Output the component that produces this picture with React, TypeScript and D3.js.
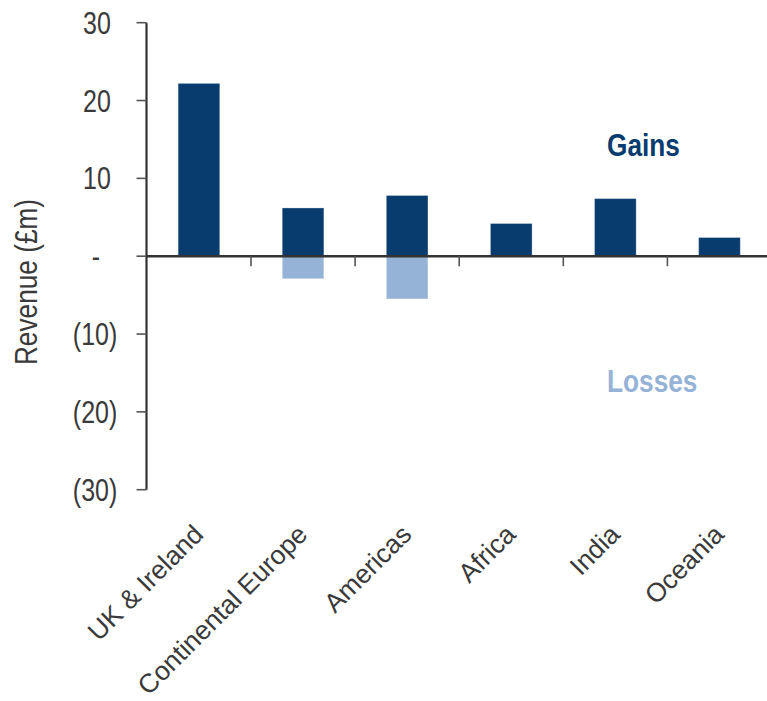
import React from "react";
import * as d3 from "d3";

// Revenue movement by region (£m)
const categories = ["UK & Ireland", "Continental Europe", "Americas", "Africa", "India", "Oceania"];
const gains = [22.2, 6.2, 7.8, 4.2, 7.4, 2.4];
const losses = [0, -2.9, -5.5, 0, 0, 0];
const yTicks = [30, 20, 10, 0, -10, -20, -30];

const W = 767;
const H = 701;
const DARK = "#083b6e";
const LIGHT = "#95b3d7";
const AXIS = "#333333";
const TEXT = "#3a3a3a";
const SANS = "'Liberation Sans', Arimo, Arial, sans-serif";
const SQUEEZE = 0.82; // horizontal squeeze for the condensed face

function fmtTick(v: number): string {
  if (v === 0) return "-";
  return v < 0 ? `(${Math.abs(v)})` : `${v}`;
}

// Condensed-looking text: regular sans squeezed horizontally
function CondText(props: {
  x: number;
  y: number;
  rotate?: number;
  anchor?: "start" | "middle" | "end";
  size: number;
  weight?: string;
  fill: string;
  dy?: string;
  children: React.ReactNode;
}) {
  const { x, y, rotate = 0, anchor = "start", size, weight = "normal", fill, dy, children } = props;
  return (
    <g transform={`translate(${x},${y}) rotate(${rotate}) scale(${SQUEEZE},1)`}>
      <text textAnchor={anchor} fontFamily={SANS} fontSize={size} fontWeight={weight} fill={fill} dy={dy}>
        {children}
      </text>
    </g>
  );
}

export default function App() {
  const axisX = 146.5;
  const y = d3.scaleLinear().domain([-30, 30]).range([489.7, 22.7]);
  const x = d3
    .scaleBand<string>()
    .domain(categories)
    .range([146.9, 146.9 + 104.1 * categories.length])
    .padding(0);
  const barW = x.bandwidth() * 0.4;
  const y0 = y(0);

  const boundaries = categories.slice(1).map((c) => x(c) as number);

  return (
    <svg width={W} height={H} style={{ position: "absolute", left: 0, top: 0, background: "#fff" }}>
      {/* bars: gains above zero, losses below */}
      {categories.map((c, i) => {
        const cx = (x(c) as number) + x.bandwidth() / 2;
        return (
          <g key={c}>
            <rect
              x={cx - barW / 2}
              y={y(gains[i])}
              width={barW}
              height={y0 - y(gains[i])}
              fill={DARK}
              stroke="#ffffff"
              strokeOpacity={0.3}
              strokeWidth={1}
            />
            {losses[i] < 0 && (
              <rect
                x={cx - barW / 2}
                y={y0}
                width={barW}
                height={y(losses[i]) - y0}
                fill={LIGHT}
                stroke="#ffffff"
                strokeOpacity={0.4}
                strokeWidth={1}
              />
            )}
          </g>
        );
      })}

      {/* y axis */}
      <line x1={axisX} x2={axisX} y1={y(30)} y2={y(-30)} stroke={AXIS} strokeWidth={2.2} />
      {yTicks.map((t) => (
        <g key={t}>
          <line x1={axisX - 10} x2={axisX} y1={y(t)} y2={y(t)} stroke="#555" strokeWidth={1.6} />
          <CondText
            x={t === 0 ? 100 : t > 0 ? 110.8 : 117.3}
            y={y(t)}
            dy="0.36em"
            anchor="end"
            size={30.5}
            fill={TEXT}
          >
            {fmtTick(t)}
          </CondText>
        </g>
      ))}

      {/* zero line with category ticks */}
      <line x1={axisX} x2={W} y1={y0} y2={y0} stroke={AXIS} strokeWidth={2.4} />
      {boundaries.map((bx, i) => (
        <line key={i} x1={bx} x2={bx} y1={y0} y2={y0 + 10} stroke="#555" strokeWidth={1.6} />
      ))}

      {/* category labels */}
      {categories.map((c) => {
        const cx = (x(c) as number) + x.bandwidth() / 2;
        return (
          <text
            key={c}
            transform={`translate(${cx + 6},536) rotate(-45)`}
            textAnchor="end"
            fontFamily={SANS}
            fontSize={26.5}
            fill={TEXT}
          >
            {c}
          </text>
        );
      })}

      {/* y axis title: squeeze along the reading direction */}
      <g transform="translate(37,282) rotate(-90) scale(0.82,1)">
        <text textAnchor="middle" fontFamily={SANS} fontSize={32} fill={TEXT}>
          Revenue (£m)
        </text>
      </g>

      {/* series captions */}
      <CondText x={607} y={156} size={32} weight="bold" fill={DARK}>
        Gains
      </CondText>
      <CondText x={607} y={392} size={32} weight="bold" fill={LIGHT}>
        Losses
      </CondText>
    </svg>
  );
}
